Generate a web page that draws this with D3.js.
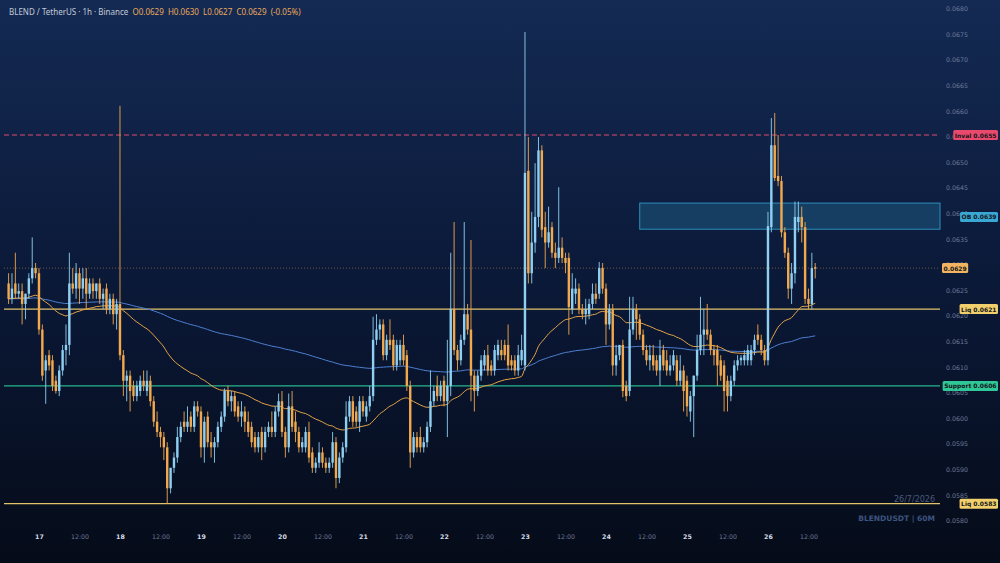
<!DOCTYPE html>
<html><head><meta charset="utf-8">
<script src="https://cdn.jsdelivr.net/npm/d3@7/dist/d3.min.js"></script>
<style>html,body{margin:0;padding:0;background:#060c1a;}svg{display:block}</style>
</head><body>
<svg id="chart" width="1000" height="563"></svg>
<script>
// ---------- DATA ----------
const startTime = new Date(2026, 6, 16, 15, 0); // first hourly candle
// [open, high, low, close] hourly
const candles = [
[.0626,.0628,.0622,.0623],[.0623,.0628,.0622,.0625],[.0626,.0632,.0623,.0624],[.0624,.0626,.0623,.06245],
[.06245,.0626,.0618,.0622],[.0622,.0624,.0619,.0624],[.0624,.0628,.0623,.0627],[.0627,.0635,.0626,.0629],
[.0629,.0630,.0627,.0628],[.0628,.0629,.0616,.0617],[.0617,.0618,.0607,.0608],[.0609,.0612,.06025,.0611],
[.0612,.0613,.0609,.0610],[.0611,.0612,.0605,.0606],[.0607,.0608,.06045,.0605],[.0605,.0610,.0604,.0609],
[.0609,.0614,.0608,.0613],[.0613,.0618,.0610,.0614],[.0614,.0632,.0612,.0626],[.0626,.0629,.0624,.0625],
[.0625,.0630,.0623,.0628],[.0628,.0629,.0622,.0625],[.0625,.0629,.0623,.0627],[.0627,.0629,.0621,.0624],
[.0624,.0627,.0623,.0626],[.0626,.0627,.0623,.06245],[.06245,.0626,.0623,.0626],[.0626,.0627,.0622,.0623],
[.0623,.0625,.0621,.0624],[.0625,.0626,.0620,.0621],[.0621,.0624,.0620,.0623],[.0623,.0624,.0618,.0620],
[.0620,.0623,.0617,.0622],[.0622,.06607,.0611,.0612],[.0612,.0613,.0604,.0607],[.0607,.0609,.0603,.0608],
[.0608,.0609,.0601,.0605],[.0606,.0607,.0603,.0604],[.0604,.0607,.0603,.0606],[.0605,.0608,.0604,.0607],
[.0607,.0609,.0605,.0606],[.0605,.0609,.0604,.0607],[.0607,.0608,.0602,.0603],[.0603,.0604,.0598,.0599],
[.0599,.0601,.0596,.0597],[.0597,.0598,.0594,.0596],[.0596,.0597,.05915,.0594],[.0594,.0595,.0583,.0586],
[.0586,.0590,.0585,.0590],[.0590,.0593,.0589,.0592],[.0592,.0598,.0591,.0596],[.0596,.0599,.0595,.0598],
[.0599,.0601,.0597,.0598],[.0598,.0602,.0597,.0599],[.0600,.0601,.0597,.0598],[.0598,.0603,.0597,.0602],
[.0602,.0603,.0600,.0601],[.0601,.0602,.0592,.0594],[.0594,.0600,.0591,.0599],[.0600,.0601,.0594,.0595],
[.0595,.0597,.0592,.0594],[.0594,.0596,.0591,.0595],[.0595,.0599,.0594,.0598],[.0598,.0601,.0597,.0600],
[.0600,.06055,.0599,.0605],[.0605,.0606,.0602,.0603],[.0603,.0605,.0601,.0604],[.0604,.0605,.0600,.0601],
[.0602,.0603,.0599,.0600],[.0600,.0603,.0598,.0601],[.0601,.0602,.0597,.0599],[.0599,.0601,.0596,.0597],
[.0598,.0599,.0594,.0595],[.0596,.0597,.0593,.0594],[.0594,.0597,.0593,.0596],[.0597,.0598,.05915,.0594],
[.0594,.0598,.0593,.0597],[.0597,.0599,.0596,.0598],[.0598,.0601,.0596,.0597],[.0597,.0602,.0596,.0601],
[.0601,.06045,.0600,.0603],[.0603,.0605,.0596,.0597],[.0597,.0598,.0592,.0594],[.0594,.06045,.0593,.0602],
[.0602,.0605,.0597,.0598],[.0599,.0601,.0595,.0597],[.0597,.0598,.0593,.0594],[.0594,.0596,.0593,.0595],
[.0594,.0598,.0593,.0597],[.0597,.0599,.0591,.0592],[.0593,.0594,.0589,.0590],[.0590,.0592,.0589,.0591],
[.0591,.0595,.0590,.0593],[.0593,.0594,.0590,.0591],[.0591,.0592,.0589,.0590],[.0590,.0592,.0589,.0591],
[.0591,.0597,.0590,.0595],[.0595,.0596,.0586,.0588],[.0588,.0593,.0587,.0592],[.0592,.0595,.0591,.0594],
[.0594,.0603,.0593,.0600],[.0600,.0604,.0599,.0603],[.0603,.0604,.0598,.0599],[.0601,.0602,.0598,.0599],
[.0599,.0604,.0597,.0603],[.0603,.0604,.0600,.0601],[.0600,.0603,.0599,.0602],[.0602,.0606,.0601,.0604],
[.0604,.06195,.0603,.0615],[.0615,.0620,.0614,.0617],[.0617,.0619,.0615,.0618],[.0618,.0619,.0611,.0612],
[.0612,.0616,.0611,.0615],[.0615,.0619,.0613,.0614],[.0615,.0616,.0609,.0610],[.0610,.0615,.0609,.0614],
[.0611,.0615,.0610,.0614],[.0614,.0616,.0610,.0611],[.0612,.0613,.0605,.0606],[.0606,.0607,.0590,.0593],
[.0593,.0597,.0592,.0596],[.0596,.0597,.0593,.0594],[.0596,.0598,.0593,.0594],[.0594,.0596,.0593,.0595],
[.0595,.0599,.0594,.0598],[.0598,.0609,.0597,.0603],[.0603,.0606,.0602,.0605],[.0606,.0608,.0603,.0604],
[.0604,.0607,.0603,.0606],[.0607,.0608,.0602,.0603],[.0603,.0615,.0596,.0606],[.0606,.0632,.0604,.0621],
[.0621,.0638,.0612,.0613],[.0613,.0614,.0609,.0611],[.0611,.0616,.0610,.0615],[.0615,.0638,.0614,.0620],
[.0620,.0622,.0616,.0617],[.0617,.06345,.0603,.0608],[.0608,.0609,.0601,.0605],[.0605,.0609,.0604,.0608],
[.0608,.0612,.0607,.0611],[.0610,.0613,.0609,.0612],[.0612,.0614,.0608,.0609],[.0610,.0611,.0608,.0609],
[.0609,.0614,.0608,.0613],[.0612,.0615,.0611,.0614],[.0613,.0615,.0611,.0612],[.0614,.0615,.0611,.0612],
[.0614,.0618,.0609,.0610],[.0611,.0612,.0609,.0610],[.0611,.0612,.0608,.0609],[.0609,.0614,.0608,.0612],
[.0611,.0616,.0610,.0613],[.0610,.06751,.0609,.06476],[.0648,.06546,.0626,.0628],[.0628,.0640,.0626,.0634],
[.0634,.06495,.0632,.0639],[.0639,.06546,.0637,.0652],[.0652,.0653,.0635,.06365],[.0637,.0640,.0629,.0634],
[.0634,.0641,.0633,.0636],[.0637,.0638,.0631,.0632],[.0632,.0634,.0629,.0631],[.0631,.06448,.0630,.0633],
[.0633,.0635,.0630,.0631],[.0631,.0632,.0628,.0630],[.0631,.0632,.0616,.06214],[.0621,.0628,.0620,.0625],
[.0624,.0627,.0622,.0625],[.0625,.0626,.0620,.0621],[.0621,.0622,.0619,.0620],[.0620,.0623,.0618,.0621],
[.0620,.0623,.0619,.0622],[.0622,.0626,.0621,.0624],[.0624,.0626,.0622,.0623],[.0624,.06302,.0623,.0629],
[.0629,.0630,.0624,.0625],[.0625,.0626,.0614,.0618],[.0618,.0622,.0617,.0621],[.0621,.0622,.0608,.0610],
[.0610,.0614,.0608,.0612],[.0612,.0614,.0611,.0614],[.0614,.0615,.06038,.0605],[.0606,.0607,.0603,.0604],
[.0605,.06234,.0604,.0617],[.0617,.06234,.0616,.0621],[.0621,.0622,.0615,.0619],[.0619,.0620,.0615,.0616],
[.0616,.0617,.0612,.0613],[.0613,.0614,.0610,.0611],[.0611,.0614,.0609,.0612],[.0612,.0614,.0609,.0610],
[.0611,.0612,.0608,.0609],[.0609,.0615,.0606,.0612],[.0613,.0614,.0609,.0610],[.0611,.0613,.0608,.0609],
[.0609,.0612,.0608,.0610],[.0610,.0613,.0609,.0612],[.0611,.0612,.0606,.0607],[.0607,.0612,.0606,.0609],
[.0609,.0610,.0601,.0605],[.0607,.0608,.0600,.0602],[.0601,.0605,.0599,.0604],[.0604,.0608,.0596,.0608],
[.0608,.0616,.0607,.0613],[.0613,.06234,.0612,.0616],[.0616,.0621,.0612,.0617],[.0617,.0622,.0615,.0616],
[.0616,.0617,.0612,.0613],[.0613,.0614,.0610,.0612],[.0613,.0614,.0606,.0610],[.0611,.0612,.0607,.0608],
[.0610,.0611,.0601,.0605],[.0607,.0608,.0601,.0604],[.0604,.0608,.0603,.0607],[.0607,.0611,.0606,.0610],
[.0610,.0612,.0609,.0611],[.0611,.0612,.0610,.06115],[.0611,.0613,.0610,.0612],[.0611,.0614,.0610,.0613],
[.0611,.0614,.0610,.0613],[.0613,.0616,.0612,.0615],[.0616,.0618,.0614,.0615],[.0615,.0616,.0612,.0613],
[.0613,.0614,.0610,.0611],[.0611,.0640,.0610,.06372],[.0637,.06583,.0636,.0653],[.0653,.06593,.0646,.06466],
[.0647,.0655,.0645,.0646],[.0646,.0647,.0635,.0636],[.0636,.0637,.0631,.0632],[.0632,.0633,.0623,.0625],
[.0625,.0630,.0622,.0628],[.0628,.0642,.0626,.0639],[.0638,.0642,.0636,.0639],[.0639,.0641,.0634,.0637],
[.0637,.0638,.0622,.0623],[.0623,.0625,.0621,.0622],[.0622,.0632,.0621,.0629],[.06292,.0630,.0627,.06289]
];
const yTickValues = [0.0580,0.0585,0.0590,0.0595,0.0600,0.0605,0.0610,0.0615,0.0620,0.0625,0.0630,0.0635,0.0640,0.0645,0.0650,0.0655,0.0660,0.0665,0.0670,0.0675,0.0680];
const yDomain = [0.0580, 0.0680];
const levelNames = ["Inval", "Liq", "Support", "Liq"];
const levelValues = [0.0655, 0.0621, 0.0606, 0.0583];
const obZone = [0.06366, 0.06417];
const obValue = 0.0639;
const obStartCandle = 187;
const lastPrice = 0.0629;
const emaFastPeriod = 50;
const emaSlowPeriod = 200;
const titleText = "BLEND / TetherUS · 1h · Binance";
const ohlcText = "O0.0629  H0.0630  L0.0627  C0.0629  (-0.05%)";
const dateText = "26/7/2026";
const symbolText = "BLENDUSDT | 60M";

// ---------- LAYOUT ----------
const W = 1000, H = 563;
const HOUR = 3600e3;
const svg = d3.select("#chart");
const defs = svg.append("defs");
const grad = defs.append("linearGradient").attr("id","bg").attr("x1",0).attr("y1",0).attr("x2",0).attr("y2",1);
grad.append("stop").attr("offset","0%").attr("stop-color","#142a53");
grad.append("stop").attr("offset","50%").attr("stop-color","#0b1938");
grad.append("stop").attr("offset","100%").attr("stop-color","#050b18");
svg.append("rect").attr("width",W).attr("height",H).attr("fill","url(#bg)");

const plotLeft = 4, plotRight = 940;
const x = d3.scaleTime()
  .domain([new Date(+startTime - 1.363*HOUR), new Date(+startTime + 275.97*HOUR)])
  .range([plotLeft, plotRight]);
const y = d3.scaleLinear().domain(yDomain).range([519, 7]);

const tOf = i => new Date(+startTime + i*HOUR);

// y axis labels
const yAxis = d3.axisRight(y).tickValues(yTickValues).tickFormat(d3.format(".4f")).tickSize(0).tickPadding(0);
const yg = svg.append("g").attr("transform","translate(946,0)").call(yAxis);
yg.select(".domain").remove();
yg.selectAll("text").attr("fill","#6d7b99").attr("font-family","DejaVu Sans, sans-serif").attr("font-size","6.3px").attr("dy","0.6em");

// x axis labels
const xTicks = d3.timeHour.every(12).range(new Date(2026,6,17,0), new Date(2026,6,26,13));
const xAxis = d3.axisBottom(x).tickValues(xTicks).tickSize(0).tickPadding(0)
  .tickFormat(d => d.getHours() === 0 ? d3.timeFormat("%-d")(d) : d3.timeFormat("%H:%M")(d));
const xg = svg.append("g").attr("transform","translate(0,535)").call(xAxis);
xg.select(".domain").remove();
xg.selectAll("text")
  .attr("font-family","DejaVu Sans, sans-serif").attr("font-size","6.3px")
  .attr("font-weight", d => d.getHours() === 0 ? "bold" : "normal")
  .attr("fill", d => d.getHours() === 0 ? "#d4dbe8" : "#6d7b99");

// OB zone
svg.append("rect")
  .attr("x", x(tOf(obStartCandle)) ).attr("y", y(obZone[1]))
  .attr("width", plotRight - x(tOf(obStartCandle)))
  .attr("height", y(obZone[0]) - y(obZone[1]))
  .attr("fill","#1d5a80").attr("fill-opacity",0.55)
  .attr("stroke","#2f8fbf").attr("stroke-width",1);

// level lines
const levelStyle = {
  "Inval": {stroke:"#e0496c", dash:"5,3", fill:"#e8496c"},
  "Liq": {stroke:"#e2c36a", dash:null, fill:"#f0cf6c"},
  "Support": {stroke:"#27b48c", dash:null, fill:"#2fc796"}
};
levelNames.forEach((n,k)=>{
  const st = levelStyle[n];
  svg.append("line").attr("x1",plotLeft).attr("x2",plotRight)
    .attr("y1",y(levelValues[k])).attr("y2",y(levelValues[k]))
    .attr("stroke",st.stroke).attr("stroke-width",1.1)
    .attr("stroke-dasharray",st.dash);
});
// last price dotted line
svg.append("line").attr("x1",plotLeft).attr("x2",plotRight)
  .attr("y1",y(lastPrice)).attr("y2",y(lastPrice))
  .attr("stroke","#b07a4a").attr("stroke-width",0.8).attr("stroke-dasharray","1,2").attr("opacity",0.8);

// EMAs
function ema(period){
  const a = 2/(period+1); let v = candles[0][3];
  return candles.map((c,i)=>{ v = i===0 ? c[3] : a*c[3] + (1-a)*v; return v; });
}
const emaFast = ema(emaFastPeriod), emaSlow = ema(emaSlowPeriod);
const line = d3.line().x((d,i)=>x(tOf(i))).y(d=>y(d)).curve(d3.curveMonotoneX);
svg.append("path").attr("d",line(emaSlow)).attr("fill","none").attr("stroke","#4d7fd0").attr("stroke-width",1);
svg.append("path").attr("d",line(emaFast)).attr("fill","none").attr("stroke","#e4a448").attr("stroke-width",1);

// candles
const upCol = "#8fd0f2", downCol = "#f2a84c";
const bw = 2.4;
const cg = svg.append("g");
candles.forEach((c,i)=>{
  const [o,h,l,cl] = c;
  const up = cl >= o;
  const col = up ? upCol : downCol;
  const cx = x(tOf(i));
  cg.append("line").attr("x1",cx).attr("x2",cx).attr("y1",y(h)).attr("y2",y(l))
    .attr("stroke",col).attr("stroke-width",0.9);
  const top = y(Math.max(o,cl)), bot = y(Math.min(o,cl));
  cg.append("rect").attr("x",cx-bw/2).attr("y",top).attr("width",bw)
    .attr("height",Math.max(1,bot-top)).attr("fill",col);
});

// tags
function tag(text, value, fill, rightAlign){
  const g = svg.append("g");
  const t = g.append("text").text(text)
    .attr("font-family","DejaVu Sans, sans-serif").attr("font-size","6px").attr("font-weight","bold")
    .attr("fill","#14161c").attr("dominant-baseline","central");
  const w = t.node().getComputedTextLength() + 3;
  const x0 = rightAlign ? 998 - w : 942;
  g.insert("rect","text").attr("x",x0).attr("y",y(value)-5).attr("width",w).attr("height",10)
    .attr("rx",1.5).attr("fill",fill);
  t.attr("x",x0+1.5).attr("y",y(value));
}
levelNames.forEach((n,k)=> tag(n+" "+d3.format(".4f")(levelValues[k]), levelValues[k], levelStyle[n].fill, true));
tag("OB "+d3.format(".4f")(obValue), obValue, "#3aa8d4", true);
tag(d3.format(".4f")(lastPrice), lastPrice, "#f2b461", false);

// header
const hdr = svg.append("text").attr("x",9).attr("y",15)
  .attr("font-family","Noto Sans, sans-serif").attr("font-size","8px");
hdr.append("tspan").text(titleText).attr("fill","#c3cad8");
hdr.append("tspan").text("  "+ohlcText).attr("fill","#e9a95c").attr("xml:space","preserve");
svg.append("text").attr("x",935).attr("y",502).attr("text-anchor","end")
  .attr("font-family","DejaVu Sans, sans-serif").attr("font-size","8px").attr("fill","#4b5b7c").text(dateText);
svg.append("text").attr("x",935).attr("y",521).attr("text-anchor","end")
  .attr("font-family","DejaVu Sans, sans-serif").attr("font-size","7.5px").attr("font-weight","bold").attr("fill","#3d5480").text(symbolText);
</script>
</body></html>
